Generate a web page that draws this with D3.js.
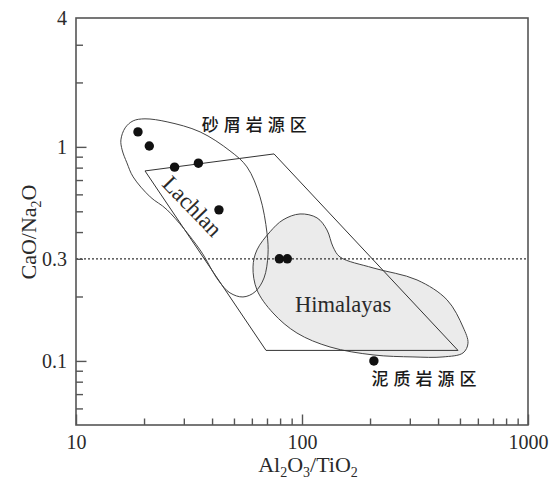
<!DOCTYPE html>
<html>
<head>
<meta charset="utf-8">
<script src="https://cdn.jsdelivr.net/npm/d3@7"></script>
<style>
  html, body { margin: 0; padding: 0; background: #fff; }
  svg { display: block; }
</style>
</head>
<body>
<svg id="chart" width="559" height="480"></svg>
<script>
// Sample ratios
const sampleAlTi = [18.8, 21.1, 27.3, 34.8, 42.9, 79.4, 86.1, 208];
const sampleCaNa = [1.175, 1.01, 0.804, 0.839, 0.508, 0.3, 0.3, 0.1];

// Lachlan field (quadrilateral)
const lachlanAlTi = [20.2, 75.2, 490, 69.3];
const lachlanCaNa = [0.772, 0.927, 0.112, 0.112];

// Sandstone-source field (closed curve)
const sandAlTi = [15.8, 16.5, 17.9, 20.2, 25.3, 35.4, 48.0, 57.1, 65.2, 70.0, 70.7, 67.9,
                  61.9, 54.8, 48.0, 42.5, 35.4, 25.3, 21.3, 17.9, 16.8, 16.0];
const sandCaNa = [1.078, 1.227, 1.323, 1.352, 1.309, 1.175, 0.958, 0.806, 0.584, 0.396, 0.313, 0.244,
                  0.210, 0.199, 0.208, 0.239, 0.330, 0.508, 0.584, 0.724, 0.842, 0.968];

// Himalayas field (closed curve, shaded)
const himAlTi = [98.0, 116.5, 129.0, 137.2, 147.3, 206.2, 322.7, 438.1, 515.8, 542.6, 515.8, 420.6,
                 309.8, 206.2, 133.0, 95.0, 74.4, 63.2, 60.7, 63.2, 72.2, 82.4];
const himCaNa = [0.486, 0.466, 0.409, 0.341, 0.306, 0.272, 0.239, 0.193, 0.144, 0.121, 0.109, 0.1044,
                 0.1044, 0.1067, 0.1162, 0.135, 0.1676, 0.2147, 0.275, 0.330, 0.401, 0.456];

// Axis ticks
const xTickLabels = [10, 100, 1000];
const xMinorTicks = [20, 30, 40, 50, 60, 70, 80, 90, 200, 300, 400, 500, 600, 700, 800, 900];
const yTickLabels = [4, 1, 0.3, 0.1];
const yMajorTicks = [1, 0.1];
const yMinorTicks = [3, 2, 0.9, 0.8, 0.7, 0.6, 0.5, 0.4, 0.3, 0.2, 0.09, 0.08, 0.07, 0.06];
const refLine = 0.3;

// Labels
const fieldLabels = [
  { text: "砂屑岩源区", x: 36, y: 1.188 },
  { text: "泥质岩源区", x: 203, y: 0.0772 }
];

const svg = d3.select("#chart");
const mLeft = 76, mRight = 528, mTop = 18, mBottom = 425;

const x = d3.scaleLog().domain([10, 1000]).range([mLeft, mRight]);
const y = d3.scaleLog().domain([0.0502, 4]).range([mBottom, mTop]);

const ink = "#2a2a2a";
const serif = "'Liberation Serif', 'Times New Roman', serif";

const closedCurve = d3.line()
  .x(d => x(d[0])).y(d => y(d[1]))
  .curve(d3.curveCatmullRomClosed.alpha(0.5));

// Himalayas field
svg.append("path")
  .datum(d3.zip(himAlTi, himCaNa))
  .attr("d", closedCurve)
  .attr("fill", "#ebebeb")
  .attr("stroke", "#444")
  .attr("stroke-width", 1);

// Dotted reference line
svg.append("line")
  .attr("x1", mLeft).attr("x2", mRight)
  .attr("y1", y(refLine)).attr("y2", y(refLine))
  .attr("stroke", "#333").attr("stroke-width", 1.2)
  .attr("stroke-dasharray", "2,2");

// Lachlan field
svg.append("path")
  .datum(d3.zip(lachlanAlTi, lachlanCaNa))
  .attr("d", d3.line().x(d => x(d[0])).y(d => y(d[1])).curve(d3.curveLinearClosed))
  .attr("fill", "none")
  .attr("stroke", "#333")
  .attr("stroke-width", 1);

// Sandstone field
svg.append("path")
  .datum(d3.zip(sandAlTi, sandCaNa))
  .attr("d", closedCurve)
  .attr("fill", "none")
  .attr("stroke", "#444")
  .attr("stroke-width", 1);

// Samples
svg.append("g").selectAll("circle")
  .data(d3.zip(sampleAlTi, sampleCaNa))
  .join("circle")
  .attr("cx", d => x(d[0]))
  .attr("cy", d => y(d[1]))
  .attr("r", 4.7)
  .attr("fill", "#111");

// Frame
svg.append("rect")
  .attr("x", mLeft).attr("y", mTop)
  .attr("width", mRight - mLeft).attr("height", mBottom - mTop)
  .attr("fill", "none").attr("stroke", "#555").attr("stroke-width", 1.6);

// Ticks (drawn inward)
const xAxis = d3.axisBottom(x).tickValues(xMinorTicks).tickSize(-6.5).tickFormat("");
const gx = svg.append("g").attr("transform", `translate(0,${mBottom})`).call(xAxis);
const xAxisMajor = d3.axisBottom(x).tickValues(xTickLabels).tickSize(-10.5).tickPadding(10)
  .tickFormat(d3.format("d"));
const gxm = svg.append("g").attr("transform", `translate(0,${mBottom})`).call(xAxisMajor);

const yAxis = d3.axisLeft(y).tickValues(yMinorTicks).tickSize(-7).tickFormat("");
const gy = svg.append("g").attr("transform", `translate(${mLeft},0)`).call(yAxis);
const yAxisMajor = d3.axisLeft(y).tickValues(yMajorTicks).tickSize(-10.5).tickFormat("");
const gym = svg.append("g").attr("transform", `translate(${mLeft},0)`).call(yAxisMajor);
const yAxisLabels = d3.axisLeft(y).tickValues(yTickLabels).tickSize(0).tickPadding(9)
  .tickFormat(d => String(d));
const gyl = svg.append("g").attr("transform", `translate(${mLeft},0)`).call(yAxisLabels);

[gx, gxm, gy, gym, gyl].forEach(g => {
  g.select(".domain").remove();
  g.selectAll("line").attr("stroke", "#555").attr("stroke-width", 1.4);
  g.selectAll("text").attr("font-family", serif).attr("font-size", 20).attr("fill", ink);
});
gyl.selectAll("line").remove();
gxm.selectAll("text").attr("dy", "0.72em");

// Axis titles
const xt = svg.append("text")
  .attr("x", 308).attr("y", 472)
  .attr("text-anchor", "middle")
  .attr("font-family", serif).attr("font-size", 22).attr("fill", ink);
xt.append("tspan").text("Al");
xt.append("tspan").text("2").attr("font-size", 14).attr("dy", 5);
xt.append("tspan").text("O").attr("dy", -5);
xt.append("tspan").text("3").attr("font-size", 14).attr("dy", 5);
xt.append("tspan").text("/TiO").attr("dy", -5);
xt.append("tspan").text("2").attr("font-size", 14).attr("dy", 5);

const yt = svg.append("text")
  .attr("transform", "translate(36,232) rotate(-90)")
  .attr("text-anchor", "middle")
  .attr("font-family", serif).attr("font-size", 22).attr("fill", ink);
yt.append("tspan").text("CaO/Na");
yt.append("tspan").text("2").attr("font-size", 14).attr("dy", 5);
yt.append("tspan").text("O").attr("dy", -5);

// Field names
svg.append("text")
  .attr("transform", `translate(${x(23.8)},${y(0.664)}) rotate(46)`)
  .attr("font-family", serif).attr("font-size", 23).attr("fill", ink)
  .text("Lachlan");

svg.append("text")
  .attr("x", x(152)).attr("y", y(0.17))
  .attr("text-anchor", "middle")
  .attr("font-family", serif).attr("font-size", 22.5).attr("fill", ink)
  .text("Himalayas");

svg.append("g").selectAll("text")
  .data(fieldLabels)
  .join("text")
  .attr("x", d => x(d.x)).attr("y", d => y(d.y))
  .attr("font-family", "'Noto Sans CJK SC', sans-serif")
  .attr("font-size", 17).attr("font-weight", 500)
  .attr("letter-spacing", 5)
  .attr("fill", "#1a1a1a")
  .text(d => d.text);
</script>
</body>
</html>
